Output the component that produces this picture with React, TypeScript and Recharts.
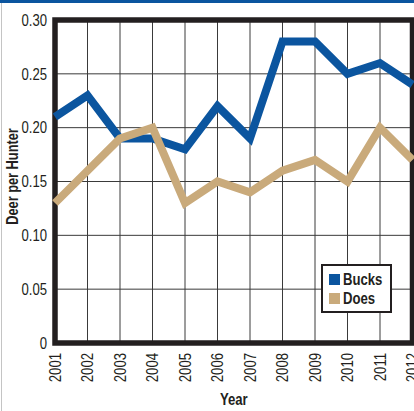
import { LineChart, Line, XAxis, YAxis, CartesianGrid, ReferenceArea, Legend } from "recharts";

const years = [2001, 2002, 2003, 2004, 2005, 2006, 2007, 2008, 2009, 2010, 2011, 2012];
const bucks = [0.21, 0.23, 0.19, 0.19, 0.18, 0.22, 0.19, 0.28, 0.28, 0.25, 0.26, 0.24];
const does = [0.13, 0.16, 0.19, 0.2, 0.13, 0.15, 0.14, 0.16, 0.17, 0.15, 0.2, 0.17];
const yTicks = [0, 0.05, 0.1, 0.15, 0.2, 0.25, 0.3];

const BLUE = "#0b559f";
const TAN = "#c9aa7b";
const INK = "#231f20";
const FONT = "'Liberation Sans', Arial, sans-serif";
// no condensed face installed, so squeeze the regular one
const NARROW = 0.82;

const data = years.map((year, i) => ({ year, bucks: bucks[i], does: does[i] }));

function YearTick({ x, y, payload }: any) {
  return (
    <g transform={`translate(${x},${y + 2})`}>
      <text
        transform={`rotate(-90) scale(${NARROW},1)`}
        textAnchor="end"
        dy="0.36em"
        fontSize={16}
        fill={INK}
        fontFamily={FONT}
      >
        {payload.value}
      </text>
    </g>
  );
}

function ValueTick({ x, y, payload }: any) {
  const v = payload.value as number;
  return (
    <text
      transform={`translate(${x},${y}) scale(${NARROW},1)`}
      textAnchor="end"
      dy="0.36em"
      fontSize={16}
      fill={INK}
      fontFamily={FONT}
    >
      {v === 0 ? "0" : v.toFixed(2)}
    </text>
  );
}

function LegendBox({ payload }: any) {
  return (
    <div
      style={{
        width: 67,
        height: 45,
        border: `2px solid ${INK}`,
        background: "#fff",
        boxSizing: "content-box",
      }}
    >
      {(payload || []).map((p: any, i: number) => (
        <div key={p.value} style={{ display: "flex", alignItems: "center", height: 19, marginTop: i === 0 ? 4 : 0, paddingLeft: 6 }}>
          <span style={{ width: 11, height: 11, background: p.color, display: "inline-block", marginRight: 3, flex: "none" }} />
          <span
            style={{
              fontFamily: FONT,
              fontWeight: 700,
              fontSize: 16,
              color: INK,
              display: "inline-block",
              transform: `scaleX(${NARROW})`,
              transformOrigin: "left center",
            }}
          >
            {p.value}
          </span>
        </div>
      ))}
    </div>
  );
}

export default function App() {
  return (
    <div style={{ position: "absolute", left: 0, top: 0, width: 414, height: 411, overflow: "hidden", background: "#fff" }}>
      <div style={{ position: "absolute", left: 0, top: 0, width: 414, height: 3, background: BLUE }} />
      <div style={{ position: "absolute", left: 1, top: 3, width: 1, height: 408, background: "#c4c4c4" }} />
      <LineChart width={440} height={411} data={data} margin={{ top: 20, right: 27.5, bottom: 0, left: 0 }}>
        <CartesianGrid stroke="#3a3a3a" strokeWidth={1} verticalValues={years} horizontalValues={yTicks} />
        <XAxis
          type="number"
          dataKey="year"
          domain={[2001, 2012]}
          ticks={years}
          interval={0}
          axisLine={false}
          tickLine={false}
          height={68}
          tick={<YearTick />}
          label={({ viewBox }: any) => (
            <text
              transform={`translate(${viewBox.x + viewBox.width / 2},${viewBox.y + 62}) scale(${NARROW},1)`}
              textAnchor="middle"
              fontFamily={FONT}
              fontWeight={700}
              fontSize={16}
              fill={INK}
            >
              Year
            </text>
          )}
        />
        <YAxis
          type="number"
          domain={[0, 0.3]}
          ticks={yTicks}
          width={55}
          axisLine={false}
          tickLine={false}
          tick={<ValueTick />}
          label={({ viewBox }: any) => (
            <text
              transform={`translate(18,${viewBox.y + viewBox.height / 2 - 5}) rotate(-90) scale(0.8,1)`}
              textAnchor="middle"
              fontFamily={FONT}
              fontWeight={700}
              fontSize={16}
              fill={INK}
            >
              Deer per Hunter
            </text>
          )}
        />
        <Line
          dataKey="bucks"
          name="Bucks"
          stroke={BLUE}
          strokeWidth={8}
          strokeLinejoin="miter"
          dot={false}
          activeDot={false}
          isAnimationActive={false}
        />
        <Line
          dataKey="does"
          name="Does"
          stroke={TAN}
          strokeWidth={8}
          strokeLinejoin="miter"
          dot={false}
          activeDot={false}
          isAnimationActive={false}
        />
        <ReferenceArea x1={2001} x2={2012} y1={0} y2={0.3} fill="none" fillOpacity={0} stroke={INK} strokeWidth={5.5} ifOverflow="visible" />
        <Legend
          layout="horizontal"
          align="center"
          verticalAlign="middle"
          content={<LegendBox />}
          wrapperStyle={{ position: "absolute", left: 321, top: 264, width: 71, bottom: "auto" }}
        />
      </LineChart>
    </div>
  );
}
